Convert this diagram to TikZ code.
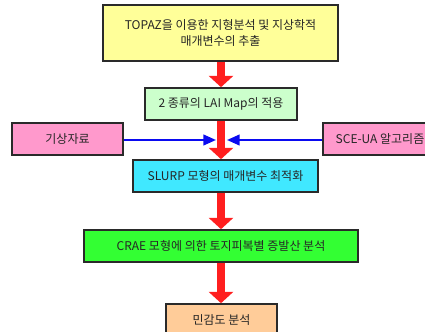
\documentclass[tikz,border=0pt]{standalone}
\usepackage{fontspec}
\setmainfont{Noto Sans CJK KR}
\usetikzlibrary{arrows.meta}
\definecolor{byellow}{HTML}{FFFF99}
\definecolor{blgreen}{HTML}{CCFFCC}
\definecolor{bpink}{HTML}{FF99CC}
\definecolor{bcyan}{HTML}{40E8FF}
\definecolor{bgreen}{HTML}{33FF33}
\definecolor{bpeach}{HTML}{FFCC99}
\definecolor{bred}{HTML}{FF1F1F}
\definecolor{bblue}{HTML}{0A0AF0}
\definecolor{bedge}{HTML}{2A2A2A}
\definecolor{btext}{HTML}{262626}
\tikzset{
  box/.style={draw=bedge, line width=1.2pt, inner sep=0pt, align=center,
    text=btext, font=\fontsize{9pt}{12.5pt}\selectfont},
  redarrow/.style={draw=bred, line width=6pt, -{Triangle[width=18pt,length=8.5pt]}},
  bluearrow/.style={draw=bblue, line width=1.6pt, -{Triangle[width=8pt,length=9.5pt]}}
}
\begin{document}
\begin{tikzpicture}[x=0.75pt,y=-0.75pt]
\useasboundingbox (0,0) rectangle (425,332);
\clip (0,0) rectangle (425,332);
\node[box, fill=byellow, minimum width=235*0.75pt, minimum height=56*0.75pt] (b1) at (220.5,33)
  {TOPAZ을 이용한 지형분석 및 지상학적\\매개변수의 추출};
\node[box, fill=blgreen, minimum width=152*0.75pt, minimum height=32*0.75pt] (b2) at (221,104)
  {2 종류의 LAI Map의 적용};
\node[box, fill=bpink, minimum width=111*0.75pt, minimum height=32*0.75pt] (pl) at (67.5,139)
  {기상자료};
\node[box, fill=bpink, minimum width=114*0.75pt, minimum height=32*0.75pt] (pr) at (380,139)
  {SCE-UA 알고리즘};
\node[box, fill=bcyan, minimum width=185*0.75pt, minimum height=32*0.75pt] (b3) at (225.5,176)
  {SLURP 모형의 매개변수 최적화};
\node[box, fill=bgreen, minimum width=274*0.75pt, minimum height=32*0.75pt] (b4) at (221,246)
  {CRAE 모형에 의한 토지피복별 증발산 분석};
\node[box, fill=bpeach, minimum width=111*0.75pt, minimum height=32*0.75pt] (b5) at (221.5,320)
  {민감도 분석};
\coordinate (ml) at (216,140);
\coordinate (mr) at (227,140);
\draw[redarrow] (b1.south -| 221,0) -- (b2.north -| 221,0);
\draw[redarrow] (b2.south -| 221,0) -- (b3.north -| 221,0);
\draw[redarrow] (b3.south -| 221,0) -- (b4.north -| 221,0);
\draw[redarrow] (b4.south -| 221,0) -- (b5.north -| 221,0);
\draw[bluearrow] (pl.east |- ml) -- (ml);
\draw[bluearrow] (pr.west |- mr) -- (mr);
\end{tikzpicture}
\end{document}
